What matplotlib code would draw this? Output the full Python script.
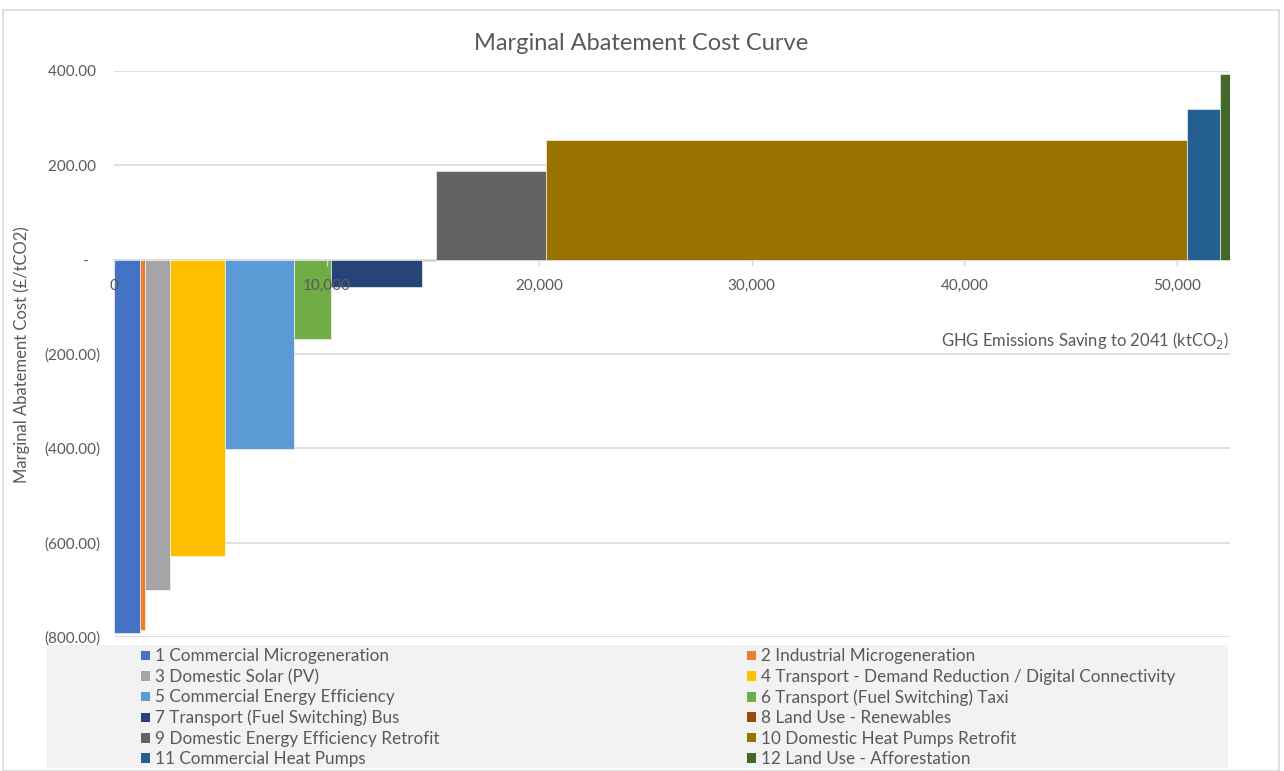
import matplotlib
matplotlib.use("Agg")
import matplotlib.pyplot as plt
from matplotlib.patches import Rectangle, Patch
from matplotlib.ticker import FuncFormatter
import numpy as np

plt.rcParams['font.family'] = ['Lato', 'DejaVu Sans']

# ---- data ----
measures = [
    "1 Commercial Microgeneration",
    "2 Industrial Microgeneration",
    "3 Domestic Solar (PV)",
    "4 Transport - Demand Reduction / Digital Connectivity",
    "5 Commercial Energy Efficiency",
    "6 Transport (Fuel Switching) Taxi",
    "7 Transport (Fuel Switching) Bus",
    "8 Land Use - Renewables",
    "9 Domestic Energy Efficiency Retrofit",
    "10 Domestic Heat Pumps Retrofit",
    "11 Commercial Heat Pumps",
    "12 Land Use - Afforestation",
]
savings_kt = [1220, 220, 1205, 2570, 3230, 1770, 4290, 630, 5170, 30170, 1570, 455]
cost_per_t = [-792, -786, -700, -629, -402, -168, -59, -3, 188, 253, 319, 393]
colors = ["#4472C4", "#ED7D31", "#A5A5A5", "#FFC000", "#5B9BD5", "#70AD47",
          "#264478", "#9E480E", "#636363", "#997300", "#255E91", "#43682B"]
x_ticks = [0, 10000, 20000, 30000, 40000, 50000]
y_ticks = [400, 200, 0, -200, -400, -600, -800]

W, H = 1284, 771
fig = plt.figure(figsize=(W / 100, H / 100), dpi=100)

# chart border
fig.patches.append(Rectangle((3 / W, 0), 1276 / W, 1 - 10 / H, transform=fig.transFigure,
                             fill=False, edgecolor="#d9d9d9", lw=1.2))

left, right, top, bottom = 114, 1230, 71, 637
ax = fig.add_axes([left / W, 1 - bottom / H, (right - left) / W, (bottom - top) / H])

widths = np.array(savings_kt, dtype=float)
lefts = np.concatenate([[0], np.cumsum(widths)[:-1]])
ax.bar(lefts, cost_per_t, width=widths, align='edge', color=colors,
       edgecolor="#ffffff", linewidth=0.4, zorder=2)

ax.set_xlim(0, widths.sum())
ax.set_ylim(-800, 400)
ax.set_yticks(y_ticks)
ax.set_xticks(x_ticks)

# horizontal gridlines behind bars
ax.hlines([v for v in y_ticks if v != 0], 0, widths.sum(), colors="#d9d9d9", lw=1.2, zorder=1)


def yfmt(v, pos):
    if v == 0:
        return "-   "
    if v < 0:
        return "({:,.2f})".format(-v)
    return "{:,.2f} ".format(v)


ax.yaxis.set_major_formatter(FuncFormatter(yfmt))
ax.xaxis.set_major_formatter(FuncFormatter(lambda v, p: "{:,.0f}".format(v)))

for s in ['top', 'right', 'left']:
    ax.spines[s].set_visible(False)
ax.spines['bottom'].set_position(('data', 0))
ax.spines['bottom'].set_color("#d9d9d9")
ax.spines['bottom'].set_linewidth(1.2)
ax.spines['bottom'].set_zorder(1.5)
ax.xaxis.set_zorder(3)

ax.tick_params(axis='y', length=0, pad=10, labelsize=11, labelcolor="#595959")
ax.tick_params(axis='x', length=4, color="#d9d9d9", width=1, pad=10, labelsize=11,
               labelcolor="#595959")

# axis titles
ax.text(1.0, -171, "GHG Emissions Saving to 2041 (ktCO$_2$)", transform=ax.get_yaxis_transform(),
        ha='right', va='center', fontsize=12, color="#595959")
fig.text(22 / W, 1 - 355 / H, "Marginal Abatement Cost (£/tCO2)", rotation=90,
         ha='center', va='center', fontsize=12, color="#595959")
fig.text(641 / W, 1 - 43 / H, "Marginal Abatement Cost Curve", ha='center', va='center',
         fontsize=17, color="#595959")

# legend background
fig.patches.append(Rectangle((46 / W, 1 - 768 / H), (1228 - 46) / W, (768 - 645) / H,
                             transform=fig.transFigure, facecolor="#f2f2f2", edgecolor='none',
                             zorder=0))

handles = [Patch(facecolor=c, edgecolor='none') for c in colors]
col1 = [i for i in range(len(measures)) if i % 2 == 0]
col2 = [i for i in range(len(measures)) if i % 2 == 1]
for idx, xpos in [(col1, 138), (col2, 744)]:
    fig.legend([handles[i] for i in idx], [measures[i] for i in idx],
               loc='upper left', bbox_to_anchor=(xpos / W, 1 - 645 / H),
               frameon=False, fontsize=12.3, labelcolor="#595959",
               handlelength=0.48, handleheight=0.48, handletextpad=0.3,
               labelspacing=0.26, borderpad=0.2, borderaxespad=0)

fig.savefig("out.png", dpi=100)
